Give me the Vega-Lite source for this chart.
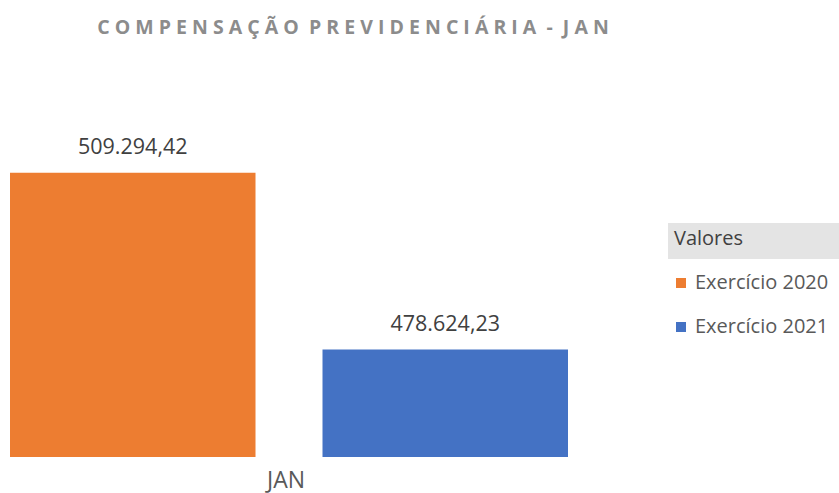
{
  "$schema": "https://vega.github.io/schema/vega-lite/v6.json",
  "autosize": "none",
  "width": 558,
  "height": 346,
  "padding": {"left": 10, "top": 111, "right": 271, "bottom": 36},
  "background": "white",
  "config": {
    "view": {"stroke": null},
    "font": "Open Sans",
    "locale": {"number": {"decimal": ",", "thousands": ".", "grouping": [3], "currency": ["R$ ", ""]}}
  },
  "title": {
    "text": "C O M P E N S A Ç Ã O \u00a0P R E V I D E N C I Á R I A \u00a0- \u00a0J A N",
    "font": "Open Sans",
    "fontSize": 19.5,
    "fontWeight": "bold",
    "color": "#8c8c8c",
    "anchor": "middle",
    "dx": 64,
    "offset": 73
  },
  "data": {
    "values": [
      {"mes": "JAN", "serie": "Exercício 2020", "valor": 509294.42, "hdr": " "},
      {"mes": "JAN", "serie": "Exercício 2021", "valor": 478624.23, "hdr": " "}
    ]
  },
  "encoding": {
    "x": {
      "field": "mes", "type": "nominal", "title": null,
      "scale": {"paddingInner": 0, "paddingOuter": 0},
      "axis": {"domain": false, "ticks": false, "labelAngle": 0, "labelFontSize": 23, "labelColor": "#595959", "labelPadding": 12, "labelOffset": -3, "labelFont": "Open Sans"}
    },
    "xOffset": {"field": "serie", "type": "nominal", "scale": {"paddingInner": 0.2144, "paddingOuter": 0}},
    "y": {
      "field": "valor", "type": "quantitative",
      "scale": {"domain": [460000, 520000], "zero": false, "nice": false, "clamp": true},
      "axis": null
    }
  },
  "layer": [
    {
      "mark": {"type": "bar", "clip": true},
      "encoding": {
        "color": {
          "field": "serie", "type": "nominal",
          "scale": {"range": ["#ED7D31", "#4472C4"]},
          "legend": {
            "orient": "none", "legendX": 661, "legendY": 162, "title": null,
            "symbolType": "square", "symbolSize": 100, "symbolStrokeWidth": 0,
            "labelFontSize": 20, "labelColor": "#595959", "labelFont": "Open Sans",
            "rowPadding": 24, "labelOffset": 4
          }
        },
        "opacity": {
          "field": "hdr", "type": "ordinal",
          "scale": {"range": [1]},
          "legend": {
            "orient": "none", "legendX": 658, "legendY": 112,
            "title": "Valores", "titleFontSize": 20, "titleColor": "#404040", "titleFont": "Open Sans", "titleFontWeight": "normal",
            "titlePadding": 0,
            "fillColor": "#e4e4e4", "padding": 6,
            "symbolSize": 0, "labelFontSize": 1, "labelOffset": 170, "symbolOpacity": 0
          }
        }
      }
    },
    {
      "mark": {"type": "text", "baseline": "alphabetic", "dy": -19, "fontSize": 21.5, "color": "#404040", "font": "Open Sans"},
      "encoding": {
        "text": {"field": "valor", "type": "quantitative", "format": ",.2f"}
      }
    }
  ]
}
